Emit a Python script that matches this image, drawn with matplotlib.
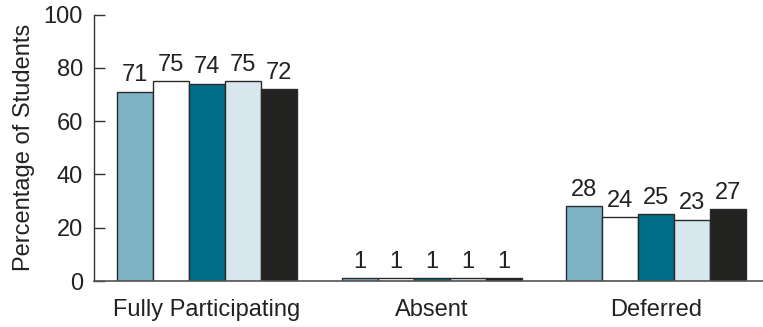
import matplotlib
matplotlib.use("Agg")
import matplotlib.pyplot as plt
import numpy as np

plt.rcParams['font.family'] = ['Liberation Sans', 'DejaVu Sans']

categories = ["Fully Participating", "Absent", "Deferred"]
series_values = [
    [71, 1, 28],
    [75, 1, 24],
    [74, 1, 25],
    [75, 1, 23],
    [72, 1, 27],
]
series_colors = ["#7fb3c6", "#ffffff", "#006e8a", "#d8e6ee", "#222220"]
y_ticks = [0, 20, 40, 60, 80, 100]

fig = plt.figure(figsize=(7.63, 3.27), dpi=100)
ax = fig.add_axes([94 / 763, 46 / 327, 669 / 763, 266.3 / 327])

x = np.arange(len(categories))
width = 0.1602
n = len(series_values)
for i, (vals, col) in enumerate(zip(series_values, series_colors)):
    offs = (i - (n - 1) / 2) * width
    bars = ax.bar(x + offs, vals, width, color=col, edgecolor="#2a2a2a", linewidth=1.0, zorder=2)
    for b, v in zip(bars, vals):
        ax.annotate(str(v), (b.get_x() + b.get_width() / 2, b.get_height()),
                    xytext=(0, 4), textcoords="offset points",
                    ha="center", va="bottom", fontsize=17, color="#222222")

ax.set_xlim(-0.5016, 2.474)
ax.set_ylim(0, 100)
ax.set_yticks(y_ticks)
ax.set_yticklabels([str(t) for t in y_ticks], fontsize=17, color="#222222")
ax.set_xticks(x)
ax.set_xticklabels(categories, fontsize=17, color="#222222")
ax.tick_params(axis="x", length=0, pad=13)
ax.tick_params(axis="y", direction="in", length=8, width=1, color="#333333", pad=8)
ax.set_ylabel("Percentage of Students", fontsize=17, color="#222222", labelpad=6)

for s in ["top", "right"]:
    ax.spines[s].set_visible(False)
ax.spines["left"].set_color("#333333")
ax.spines["bottom"].set_color("#555555")
ax.spines["left"].set_linewidth(1)
ax.spines["bottom"].set_linewidth(1.2)

fig.savefig("out.png", dpi=100)
